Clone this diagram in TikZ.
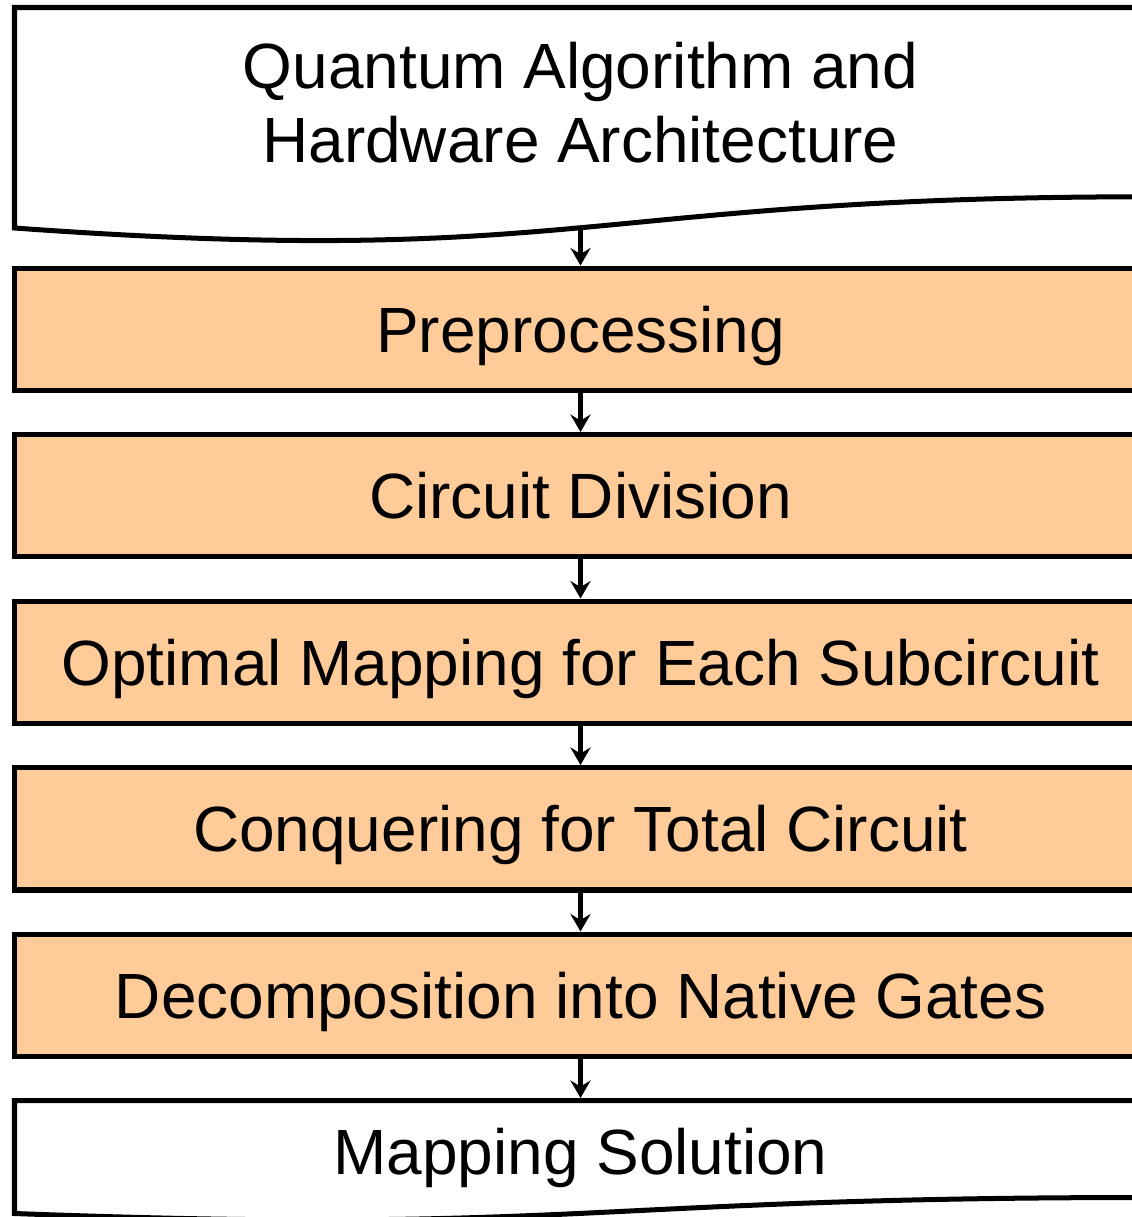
\documentclass[tikz,border=0pt]{standalone}
\usepackage{fontspec}
\setmainfont{Liberation Sans}
\usetikzlibrary{arrows.meta}
\definecolor{stepfill}{HTML}{FFCC99}
\begin{document}
\begin{tikzpicture}[x=0.02cm,y=-0.02cm,
  outline/.style={draw=black, line width=2.85pt, line join=miter},
  stage/.style={outline, fill=stepfill, rectangle, inner sep=0pt,
    minimum width=22.64cm, minimum height=2.45cm,
    font=\fontsize{36.4pt}{42pt}\selectfont, text height=26.1pt, text depth=0pt},
  plaintext/.style={inner sep=0pt, font=\fontsize{36.4pt}{42pt}\selectfont},
  flow/.style={-{Stealth[length=10pt,width=11.5pt,inset=3.5pt]}, line width=2.3pt}
]
\useasboundingbox (0,0) rectangle (1132,1217);
\clip (0,0) rectangle (1132,1217);

% input document shape
\draw[outline, fill=white] (14.5,7.5) -- (1146.5,7.5) -- (1146.5,196.8)
  .. controls (580.5,196.8) and (580.5,268.9) .. (14.5,228) -- cycle;
\coordinate (srcout) at (580.5,227.8);
\node[plaintext, anchor=base] (srcA) at (580.5,88) {Quantum Algorithm and};
\node[plaintext, anchor=base] (srcB) at (580.5,162) {Hardware Architecture};

% processing stages
\node[stage] (pre)  at (580.5,329.25) {Preprocessing};
\node[stage] (div)  at (580.5,495.75) {Circuit Division};
\node[stage] (opt)  at (580.5,662.25) {Optimal Mapping for Each Subcircuit};
\node[stage] (conq) at (580.5,828.75) {Conquering for Total Circuit};
\node[stage] (dec)  at (580.5,995.25) {Decomposition into Native Gates};

% output document shape
\draw[outline, fill=white] (14.5,1100.5) -- (1146.5,1100.5) -- (1146.5,1197.5)
  .. controls (580.5,1197.5) and (580.5,1234.5) .. (14.5,1213.5) -- cycle;
\coordinate (outin) at (580.5,1098);
\node[plaintext, anchor=base] (out) at (580.5,1174) {Mapping Solution};

% connectors
\draw[flow] (srcout) -- (pre.north);
\draw[flow] (pre.south) -- (div.north);
\draw[flow] (div.south) -- (opt.north);
\draw[flow] (opt.south) -- (conq.north);
\draw[flow] (conq.south) -- (dec.north);
\draw[flow] (dec.south) -- (outin);
\end{tikzpicture}
\end{document}
